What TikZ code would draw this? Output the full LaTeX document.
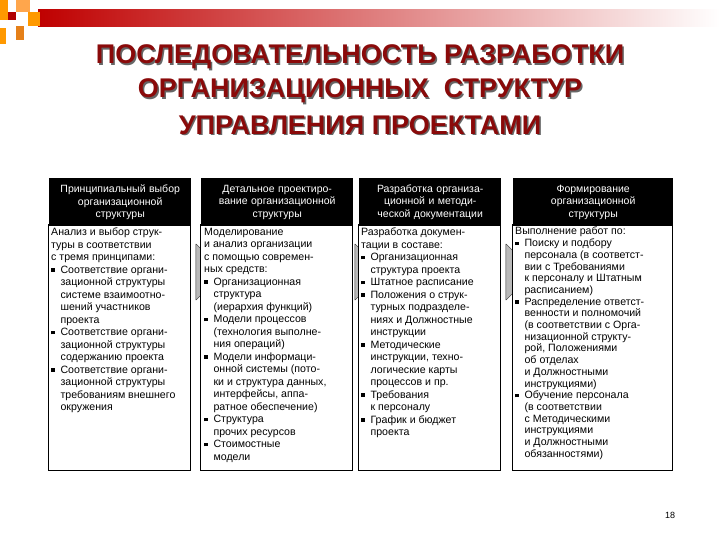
\documentclass[tikz,border=0pt]{standalone}
\usepackage{fontspec}
\setmainfont{Liberation Sans}
\usetikzlibrary{shapes.arrows}
\definecolor{ttl}{HTML}{8A0A0A}
\begin{document}
\begin{tikzpicture}[x=1pt,y=-1pt,
 hdr/.style={fill=black,text=white,anchor=north west,minimum height=48pt,align=center,font=\fontsize{10.5}{12.5}\selectfont,inner sep=1pt},
 bodyb/.style={draw=black,line width=1pt,fill=white,anchor=north west,inner sep=0pt},
 txt/.style={anchor=north west,align=left,font=\fontsize{10.6}{12.5}\selectfont,inner sep=0pt},
 arr/.style={single arrow,fill=gray!55,draw=black!80,minimum height=24pt,minimum width=56pt,single arrow head extend=0pt,inner sep=0pt},
 ttlt/.style={text=ttl,font=\bfseries\fontsize{27}{30}\selectfont}]
\useasboundingbox (0,0) rectangle (720,540);
\fill[white] (0,0) rectangle (720,540);
% top decoration
\shade[left color=red!75!black,right color=white] (38,10) rectangle (720,27);
\fill[orange!80!yellow] (0,0) rectangle (8,20);
\fill[red!70!black] (8,12) rectangle (16,20);
\fill[orange!70] (16,0) rectangle (30,12);
\fill[orange!80!yellow] (28,12) rectangle (40,26);
\fill[orange!60!brown] (16,26) rectangle (24,40);
\fill[orange!80!yellow] (0,28) rectangle (6,44);
% title
\foreach \t/\yy [count=\i] in {ПОСЛЕДОВАТЕЛЬНОСТЬ РАЗРАБОТКИ/57,ОРГАНИЗАЦИОННЫХ\ \ СТРУКТУР/91,УПРАВЛЕНИЯ ПРОЕКТАМИ/125}{
 \node[ttlt,text=black!60] at (361.5,\yy+1.5) {\t};
 \node[ttlt] (t\i) at (360,\yy) {\t};}
% arrows
\node[arr] (a1) at (196,272) {};
\node[arr] (a2) at (355,272) {};
\node[arr] (a3) at (506,272) {};
% columns
\node[bodyb,minimum width=142pt,minimum height=246pt] (b1) at (48,224) {};
\node[bodyb,minimum width=152pt,minimum height=246pt] (b2) at (200,224) {};
\node[bodyb,minimum width=142pt,minimum height=246pt] (b3) at (358,224) {};
\node[bodyb,minimum width=160pt,minimum height=246pt] (b4) at (512,224) {};
\node[hdr,text width=140pt] (h1) at (49,178) {Принципиальный выбор\\организационной\\структуры};
\node[hdr,text width=150pt] (h2) at (201,178) {Детальное проектиро-\\вание организационной\\структуры};
\node[hdr,text width=140pt] (h3) at (359,178) {Разработка организа-\\ционной и методи-\\ческой документации};
\node[hdr,text width=158pt] (h4) at (513,178) {Формирование\\организационной\\структуры};
\def\b{\rule[1.5pt]{3.5pt}{3.5pt}\ \ }
\node[txt] (c1) at (51,228) {Анализ и выбор струк-\\туры в соответствии\\с тремя принципами:\\
\b Соответствие органи-\\\hphantom{\b}зационной структуры\\\hphantom{\b}системе взаимоотно-\\\hphantom{\b}шений участников\\\hphantom{\b}проекта\\
\b Соответствие органи-\\\hphantom{\b}зационной структуры\\\hphantom{\b}содержанию проекта\\
\b Соответствие органи-\\\hphantom{\b}зационной структуры\\\hphantom{\b}требованиям внешнего\\\hphantom{\b}окружения};
\node[txt] (c2) at (204,228) {Моделирование\\и анализ организации\\с помощью современ-\\ных средств:\\
\b Организационная\\\hphantom{\b}структура\\\hphantom{\b}(иерархия функций)\\
\b Модели процессов\\\hphantom{\b}(технология выполне-\\\hphantom{\b}ния операций)\\
\b Модели информаци-\\\hphantom{\b}онной системы (пото-\\\hphantom{\b}ки и структура данных,\\\hphantom{\b}интерфейсы, аппа-\\\hphantom{\b}ратное обеспечение)\\
\b Структура\\\hphantom{\b}прочих ресурсов\\
\b Стоимостные\\\hphantom{\b}модели};
\node[txt] (c3) at (361,228) {Разработка докумен-\\тации в составе:\\
\b Организационная\\\hphantom{\b}структура проекта\\
\b Штатное расписание\\
\b Положения о струк-\\\hphantom{\b}турных подразделе-\\\hphantom{\b}ниях и Должностные\\\hphantom{\b}инструкции\\
\b Методические\\\hphantom{\b}инструкции, техно-\\\hphantom{\b}логические карты\\\hphantom{\b}процессов и пр.\\
\b Требования\\\hphantom{\b}к персоналу\\
\b График и бюджет\\\hphantom{\b}проекта};
\node[txt,font=\fontsize{10.6}{11.7}\selectfont] (c4) at (515,227) {Выполнение работ по:\\
\b Поиску и подбору\\\hphantom{\b}персонала (в соответст-\\\hphantom{\b}вии с Требованиями\\\hphantom{\b}к персоналу и Штатным\\\hphantom{\b}расписанием)\\
\b Распределение ответст-\\\hphantom{\b}венности и полномочий\\\hphantom{\b}(в соответствии с Орга-\\\hphantom{\b}низационной структу-\\\hphantom{\b}рой, Положениями\\\hphantom{\b}об отделах\\\hphantom{\b}и Должностными\\\hphantom{\b}инструкциями)\\
\b Обучение персонала\\\hphantom{\b}(в соответствии\\\hphantom{\b}с Методическими\\\hphantom{\b}инструкциями\\\hphantom{\b}и Должностными\\\hphantom{\b}обязанностями)};
\node[font=\fontsize{9}{10}\selectfont] (pg) at (670,515) {18};
\end{tikzpicture}
\end{document}
